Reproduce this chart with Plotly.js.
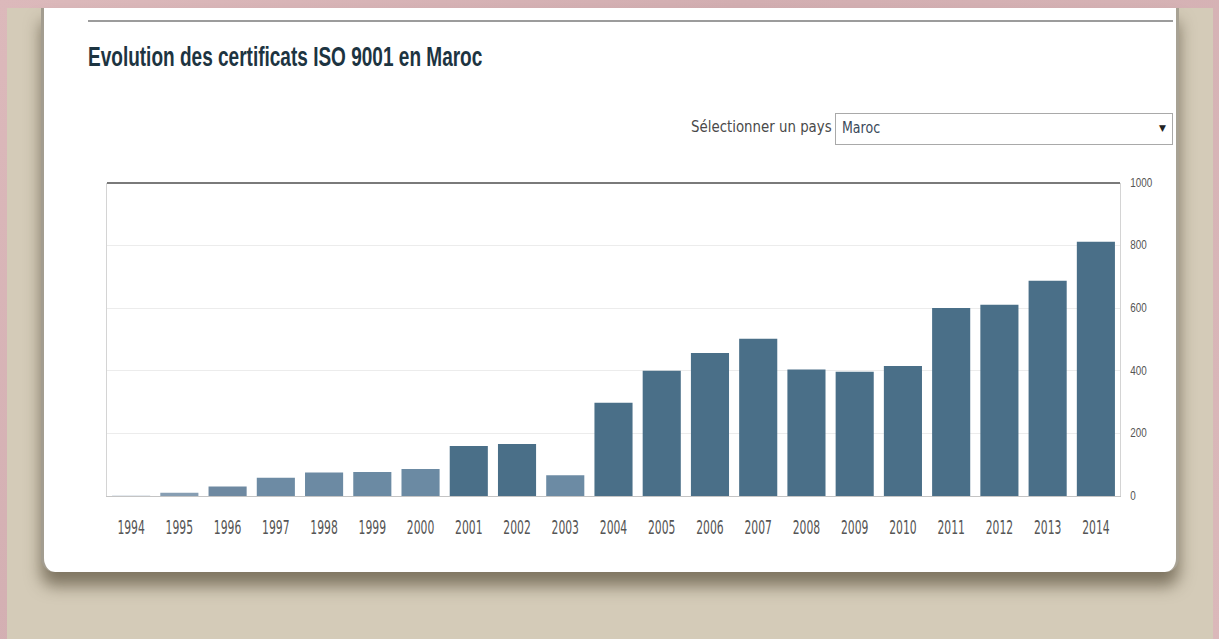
<!DOCTYPE html>
<html>
<head>
<meta charset="utf-8">
<script src="https://cdn.plot.ly/plotly-3.0.1.min.js"></script>
<style>
  html, body { margin:0; padding:0; }
  body { width:1219px; height:639px; position:relative; overflow:hidden;
         background: linear-gradient(135deg,#dcb9bb,#d2aeb1 40%,#dbb8ba); }
  #beige { position:absolute; left:7px; top:8px; width:1206px; height:631px; background:#d4cbb8; }
  #card { position:absolute; left:41px; top:8px; width:1132px; height:564px; background:#fff;
          border-left:3px solid #a39d90; border-right:3px solid #a8a294;
          border-radius:0 0 14px 14px;
          box-shadow: 0 14px 16px rgba(70,60,40,0.6); }
  #topline { position:absolute; left:88px; top:20px; width:1085px; height:2px; background:#9c9c9c; }
  #sel-label { position:absolute; right:calc(1219px - 832px); top:118px; font-family:"DejaVu Sans Condensed",sans-serif;
               font-size:14px; color:#4a4a4a; transform:scaleX(1.06) scaleY(1.18); transform-origin:right center; }
  #sel-box { position:absolute; left:835px; top:113px; width:338px; height:32px; box-sizing:border-box;
             border:1px solid #a9a9a9; background:#fff; }
  #sel-text { position:absolute; left:6px; top:5px; font-family:"DejaVu Sans Condensed",sans-serif;
              font-size:14px; color:#3a4a5a; transform:scaleY(1.15); transform-origin:left center; display:inline-block; }
  #sel-arrow { position:absolute; left:323px; top:9px; font-family:"DejaVu Sans",sans-serif; font-size:9px; color:#222; }
  #chart { position:absolute; left:0; top:0; width:1219px; height:639px; }
</style>
</head>
<body>
<div id="beige"></div>
<div id="card"></div>
<div id="topline"></div>
<div id="sel-label">Sélectionner un pays</div>
<div id="sel-box"><span id="sel-text">Maroc</span><span id="sel-arrow">▼</span></div>
<div id="chart"></div>
<script>
const titleText = "Evolution des certificats ISO 9001 en Maroc";
const years = ["1994","1995","1996","1997","1998","1999","2000","2001","2002","2003","2004",
               "2005","2006","2007","2008","2009","2010","2011","2012","2013","2014"];
const certificats = [1, 10, 30, 58, 75, 77, 86, 160, 166, 66, 298,
                     400, 457, 502, 404, 397, 415, 601, 611, 688, 812];
const yTicks = [0, 200, 400, 600, 800, 1000];

const trace = {
  type: "bar",
  x: years,
  y: certificats,
  marker: {
    color: certificats,
    cmin: 0, cmax: 160,
    colorscale: [[0,"#93a9bc"],[0.2,"#6b879f"],[0.35,"#6d8ba4"],[0.6,"#6a89a2"],[0.9,"#4f7390"],[1,"#4a6f88"]],
    showscale: false,
    line: { width: 0 }
  },
  hoverinfo: "x+y"
};

const layout = {
  width: 1219, height: 639,
  paper_bgcolor: "rgba(0,0,0,0)",
  plot_bgcolor: "#ffffff",
  margin: { l: 107, r: 99, t: 183, b: 143, pad: 0 },
  showlegend: false,
  bargap: 0.21,
  title: {
    text: titleText,
    xref: "container", yref: "container",
    x: 88/1219, xanchor: "left",
    y: 1 - 57/639, yanchor: "middle",
    font: { family: "Liberation Sans, Arial, sans-serif", size: 27, weight: "bold", color: "#1d3441" }
  },
  xaxis: {
    type: "category",
    tickvals: years,
    ticks: "outside", ticklen: 19, tickcolor: "rgba(0,0,0,0)",
    tickfont: { family: "DejaVu Sans Condensed, sans-serif", size: 15, color: "#555" },
    showline: true, linecolor: "#c4c4c4", linewidth: 1,
    showgrid: false, zeroline: false, fixedrange: true
  },
  yaxis: {
    side: "right",
    range: [0, 1000],
    tickvals: yTicks,
    ticks: "outside", ticklen: 7, tickcolor: "rgba(0,0,0,0)",
    tickfont: { family: "Liberation Sans, Arial, sans-serif", size: 11, color: "#555" },
    showgrid: true, gridcolor: "#ececec", gridwidth: 1,
    showline: true, mirror: true, linecolor: "#d4d4d4", linewidth: 1,
    zeroline: false, fixedrange: true
  },
  shapes: [
    { type: "line", xref: "paper", yref: "paper", x0: 0, x1: 1, y0: 1, y1: 1,
      line: { color: "#7a7a7a", width: 2 } }
  ]
};

function squeeze(el, sx, sy) {
  const x = parseFloat(el.getAttribute("x")) || 0;
  const y = parseFloat(el.getAttribute("y")) || 0;
  const prev = el.getAttribute("transform") || "";
  el.setAttribute("transform", prev + " translate(" + x + "," + y + ") scale(" + sx + "," + sy + ") translate(" + (-x) + "," + (-y) + ")");
}

Plotly.newPlot("chart", [trace], layout, { displayModeBar: false, staticPlot: true }).then(function (gd) {
  const t = gd.querySelector(".gtitle");
  if (t) squeeze(t, 0.705, 1);
  gd.querySelectorAll(".xtick text").forEach(function (el) { squeeze(el, 0.8, 1.3); });
  gd.querySelectorAll(".ytick text").forEach(function (el) { squeeze(el, 0.9, 1.1); });
});
</script>
</body>
</html>
